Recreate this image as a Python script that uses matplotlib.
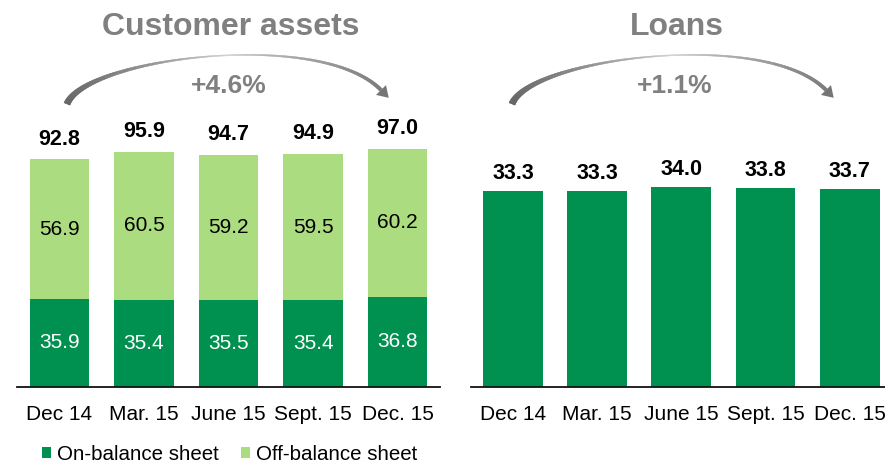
import matplotlib
matplotlib.use('Agg')
import matplotlib.pyplot as plt
import numpy as np
from matplotlib.collections import PolyCollection
from matplotlib.patches import Patch, Polygon

plt.rcParams['font.family'] = ['Liberation Sans', 'DejaVu Sans']

# ---- data ----
categories = ['Dec 14', 'Mar. 15', 'June 15', 'Sept. 15', 'Dec. 15']
on_balance = [35.9, 35.4, 35.5, 35.4, 36.8]
off_balance = [56.9, 60.5, 59.2, 59.5, 60.2]
totals = [92.8, 95.9, 94.7, 94.9, 97.0]
loans = [33.3, 33.3, 34.0, 33.8, 33.7]
assets_title = 'Customer assets'
loans_title = 'Loans'
assets_growth = '+4.6%'
loans_growth = '+1.1%'
legend_labels = ['On-balance sheet', 'Off-balance sheet']

W, H = 885, 463
fig = plt.figure(figsize=(W / 100, H / 100), dpi=100)

DARK = '#00904F'
LIGHT = '#ABDC7F'
GREY = '#808080'

base_px = 387
top_px = 40


def add_ax(x0, x1, px_per_unit, xmax):
    ax = fig.add_axes([x0 / W, (H - base_px) / H, (x1 - x0) / W, (base_px - top_px) / H])
    ax.set_ylim(0, (base_px - top_px) / px_per_unit)
    ax.set_xlim(-0.5, xmax)
    for s in ['top', 'left', 'right']:
        ax.spines[s].set_visible(False)
    ax.spines['bottom'].set_linewidth(1.3)
    ax.spines['bottom'].set_color('#111111')
    ax.spines['bottom'].set_zorder(5)
    ax.set_yticks([])
    ax.set_xticks(range(len(categories)))
    ax.set_xticklabels(categories, fontsize=15)
    ax.tick_params(axis='x', length=0, pad=13)
    ax.patch.set_alpha(0)
    return ax


# ---- left: customer assets ----
ax1 = add_ax(17, 440, 2.455, 4.5)
x = np.arange(len(categories))
ax1.bar(x, on_balance, width=0.70, color=DARK, label=legend_labels[0])
ax1.bar(x, off_balance, width=0.70, bottom=on_balance, color=LIGHT, label=legend_labels[1])
for i in range(len(categories)):
    ax1.text(i, on_balance[i] / 2, f'{on_balance[i]:.1f}', ha='center', va='center',
             fontsize=15, color='white')
    ax1.text(i, on_balance[i] + off_balance[i] / 2, f'{off_balance[i]:.1f}', ha='center',
             va='center', fontsize=15, color='black')
    ax1.annotate(f'{totals[i]:.1f}', (i, totals[i]), xytext=(0, 14.5), textcoords='offset points',
                 ha='center', va='center', fontsize=15.5, fontweight='bold', color='black')

# ---- right: loans ----
ax2 = add_ax(471, 885, 5.89, 4.42)
ax2.bar(x, loans, width=0.71, color=DARK)
for i in range(len(categories)):
    ax2.annotate(f'{loans[i]:.1f}', (i, loans[i]), xytext=(0, 12.5), textcoords='offset points',
                 ha='center', va='center', fontsize=15.5, fontweight='bold', color='black')

# ---- overlay for titles / arrows ----
ov = fig.add_axes([0, 0, 1, 1])
ov.set_xlim(0, W)
ov.set_ylim(H, 0)
ov.axis('off')
ov.patch.set_alpha(0)

ov.text(231, 27, assets_title, fontsize=23, fontweight='bold', color=GREY, ha='center', va='center')
ov.text(677, 27, loans_title, fontsize=23, fontweight='bold', color=GREY, ha='center', va='center')
ov.text(229, 86, assets_growth, fontsize=19, fontweight='bold', color=GREY, ha='center', va='center')
ov.text(675, 86, loans_growth, fontsize=19, fontweight='bold', color=GREY, ha='center', va='center')


def arc_arrow(dx):
    P0 = np.array([67.0 + dx, 104.0])
    P1 = np.array([85.0 + dx, 58.0])
    P2 = np.array([320.0 + dx, 28.0])
    P3 = np.array([381.0 + dx, 90.0])
    t = np.linspace(0, 1, 300)
    tt = t[:, None]
    pts = (1 - tt) ** 3 * P0 + 3 * (1 - tt) ** 2 * tt * P1 + 3 * (1 - tt) * tt ** 2 * P2 + tt ** 3 * P3
    d = 3 * (1 - tt) ** 2 * (P1 - P0) + 6 * (1 - tt) * tt * (P2 - P1) + 3 * tt ** 2 * (P3 - P2)
    d = d / np.linalg.norm(d, axis=1)[:, None]
    nrm = np.column_stack([-d[:, 1], d[:, 0]])
    w = np.where(t < 0.55, 1.0 + 5.5 * ((0.55 - t) / 0.55) ** 1.5, 1.0 + 2.5 * ((t - 0.55) / 0.45) ** 1.2)
    up = pts + nrm * (w / 2)[:, None]
    lo = pts - nrm * (w / 2)[:, None]
    quads = []
    cols = []
    for k in range(len(t) - 1):
        quads.append([up[k], up[k + 1], lo[k + 1], lo[k]])
        tm = (t[k] + t[k + 1]) / 2
        if tm < 0.55:
            g = 0.40 + 0.42 * (tm / 0.55) ** 2
        else:
            g = 0.82 - 0.36 * ((tm - 0.55) / 0.45) ** 0.7
        cols.append((g, g, g))
    pc = PolyCollection(quads, facecolors=cols, edgecolors=cols, linewidths=0.3)
    ov.add_collection(pc)
    # arrow head
    end = pts[-1]
    dirv = d[-1]
    n = nrm[-1]
    tip = end + dirv * 11
    head = Polygon([end + n * 7, tip, end - n * 7], closed=True, facecolor='#757575', edgecolor='none')
    ov.add_patch(head)


arc_arrow(0)
arc_arrow(445)

# ---- legend ----
handles = [Patch(facecolor=DARK, edgecolor='none'), Patch(facecolor=LIGHT, edgecolor='none')]
fig.legend(handles, legend_labels, loc='center left', bbox_to_anchor=(42 / W, 1 - 454 / H),
           ncol=2, frameon=False, fontsize=14.8, handlelength=0.45, handleheight=0.45,
           handletextpad=0.3, columnspacing=1.05, borderpad=0, borderaxespad=0)

fig.savefig('out.png', dpi=100)
